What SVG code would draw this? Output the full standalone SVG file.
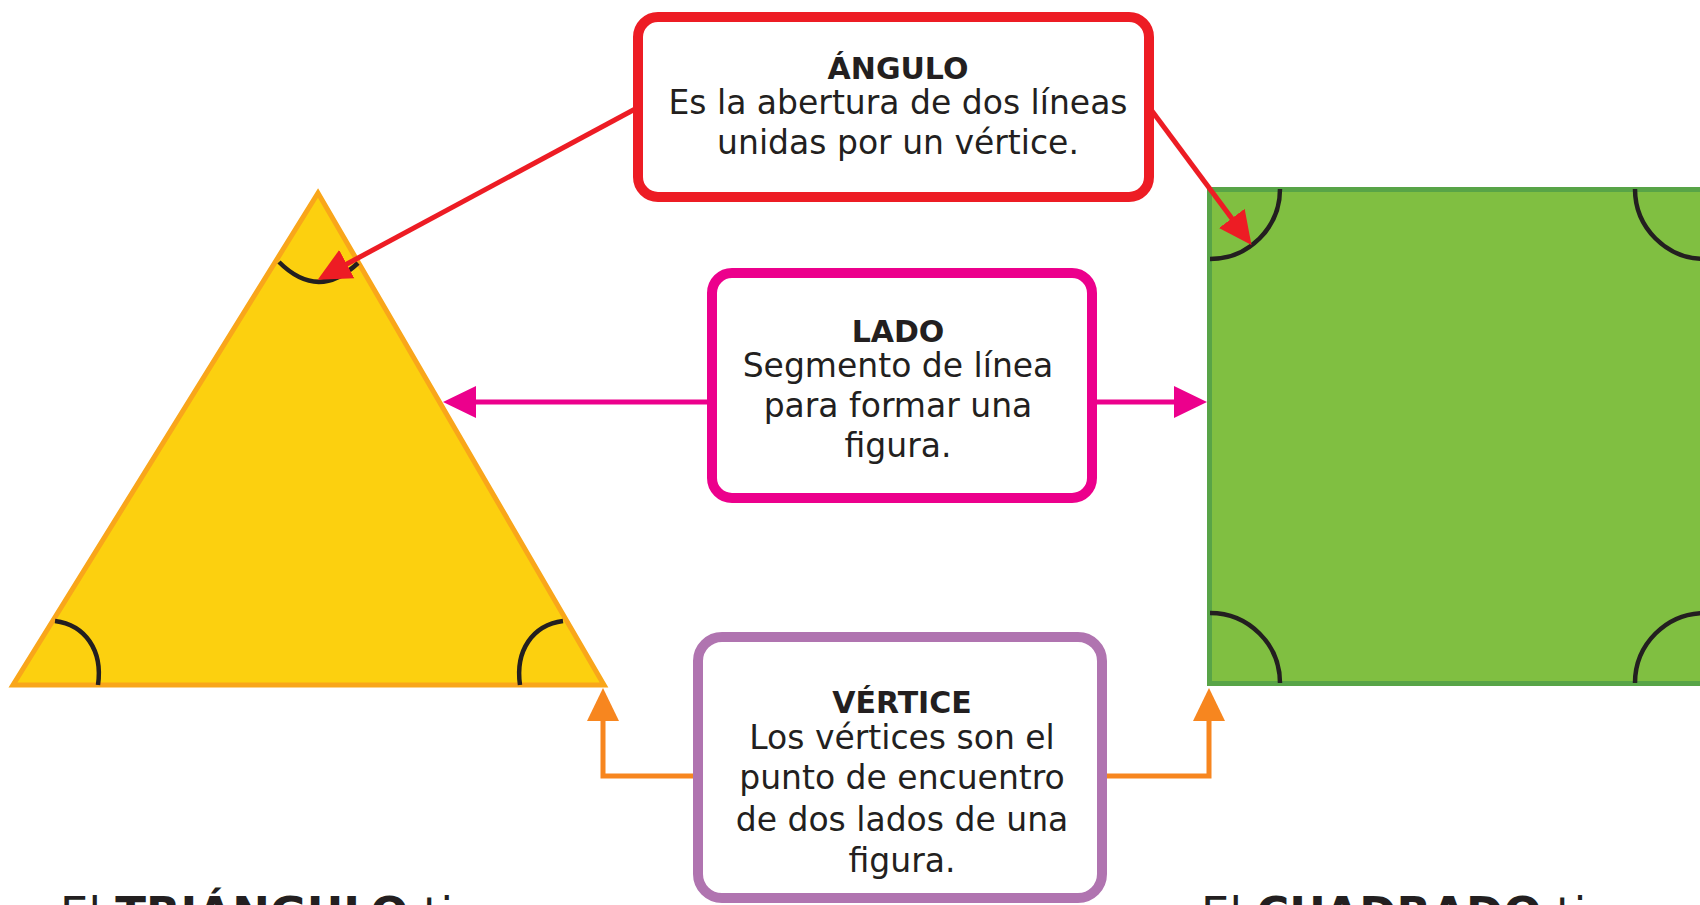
<svg xmlns="http://www.w3.org/2000/svg" width="1700" height="905" viewBox="0 0 1700 905">
<style>
  text { font-family: "DejaVu Sans", "Liberation Sans", sans-serif; fill: #231F20; }
  .t { font-size: 30px; font-weight: bold; text-anchor: middle; }
  .b { font-size: 33px; text-anchor: middle; }
  .big { font-size: 45px; }
  .arc { fill: none; stroke: #231F20; stroke-width: 4.5; }
  .box { fill: #FFFFFF; stroke-width: 10; }
  .con { fill: none; stroke-width: 5; }
</style>
<defs>
  <marker id="mRed" markerUnits="userSpaceOnUse" markerWidth="34" markerHeight="34" viewBox="0 -17 34 34" refX="2" refY="0" orient="auto">
    <path d="M0,-16 L33,0 L0,16 Z" fill="#ED1C24"/>
  </marker>
  <marker id="mMag" markerUnits="userSpaceOnUse" markerWidth="34" markerHeight="34" viewBox="0 -17 34 34" refX="2" refY="0" orient="auto">
    <path d="M0,-16 L33,0 L0,16 Z" fill="#EC008C"/>
  </marker>
  <marker id="mOr" markerUnits="userSpaceOnUse" markerWidth="34" markerHeight="34" viewBox="0 -17 34 34" refX="2" refY="0" orient="auto">
    <path d="M0,-16 L33,0 L0,16 Z" fill="#F7861F"/>
  </marker>
</defs>
<rect width="1700" height="905" fill="#FFFFFF"/>

<g id="triangle">
  <polygon points="318,193 13,685 604,685" fill="#FCD00F" stroke="#F9A61A" stroke-width="5" stroke-linejoin="miter"/>
  <path class="arc" d="M279,262 Q318,301 358,263"/>
  <path class="arc" d="M55,621 C85,625 103,650 98,685"/>
  <path class="arc" d="M563,621 C533,625 515,650 520,685"/>
</g>

<g id="square">
  <rect x="1209.5" y="189.5" width="500" height="494" fill="#80BF41" stroke="#58A447" stroke-width="5"/>
  <path class="arc" d="M1280,189 A70,70 0 0 1 1210,259"/>
  <path class="arc" d="M1635,189 A70,70 0 0 0 1705,259"/>
  <path class="arc" d="M1210,613 A70,70 0 0 1 1280,683"/>
  <path class="arc" d="M1705,613 A70,70 0 0 0 1635,683"/>
</g>

<g id="connectors">
  <path class="con" stroke="#ED1C24" d="M637,108 L345,265" marker-end="url(#mRed)"/>
  <path class="con" stroke="#ED1C24" d="M1152,111 L1233,220" marker-end="url(#mRed)"/>
  <path class="con" stroke="#EC008C" d="M712,402 H474" marker-end="url(#mMag)"/>
  <path class="con" stroke="#EC008C" d="M1092,402 H1176" marker-end="url(#mMag)"/>
  <path class="con" stroke="#F7861F" d="M699,776 H603 V719" marker-end="url(#mOr)"/>
  <path class="con" stroke="#F7861F" d="M1102,776 H1209 V719" marker-end="url(#mOr)"/>
</g>

<g id="angulo">
  <rect class="box" x="638" y="17" width="511" height="180" rx="20" stroke="#ED1C24"/>
  <text class="t" x="898" y="79">ÁNGULO</text>
  <text class="b" x="898" y="114">Es la abertura de dos líneas</text>
  <text class="b" x="898" y="154">unidas por un vértice.</text>
</g>

<g id="lado">
  <rect class="box" x="712" y="273" width="380" height="225" rx="20" stroke="#EC008C"/>
  <text class="t" x="898" y="342">LADO</text>
  <text class="b" x="898" y="377">Segmento de línea</text>
  <text class="b" x="898" y="417">para formar una</text>
  <text class="b" x="898" y="457">figura.</text>
</g>

<g id="vertice">
  <rect class="box" x="698" y="637" width="404" height="261" rx="24" stroke="#B074B0"/>
  <text class="t" x="902" y="713">VÉRTICE</text>
  <text class="b" x="902" y="749">Los vértices son el</text>
  <text class="b" x="902" y="789">punto de encuentro</text>
  <text class="b" x="902" y="831">de dos lados de una</text>
  <text class="b" x="902" y="872">figura.</text>
</g>

<g id="captions">
  <text class="big" x="60" y="929">El <tspan font-weight="bold">TRIÁNGULO</tspan> ti</text>
  <text class="big" x="1201" y="929">El <tspan font-weight="bold">CUADRADO</tspan> ti</text>
</g>
</svg>
